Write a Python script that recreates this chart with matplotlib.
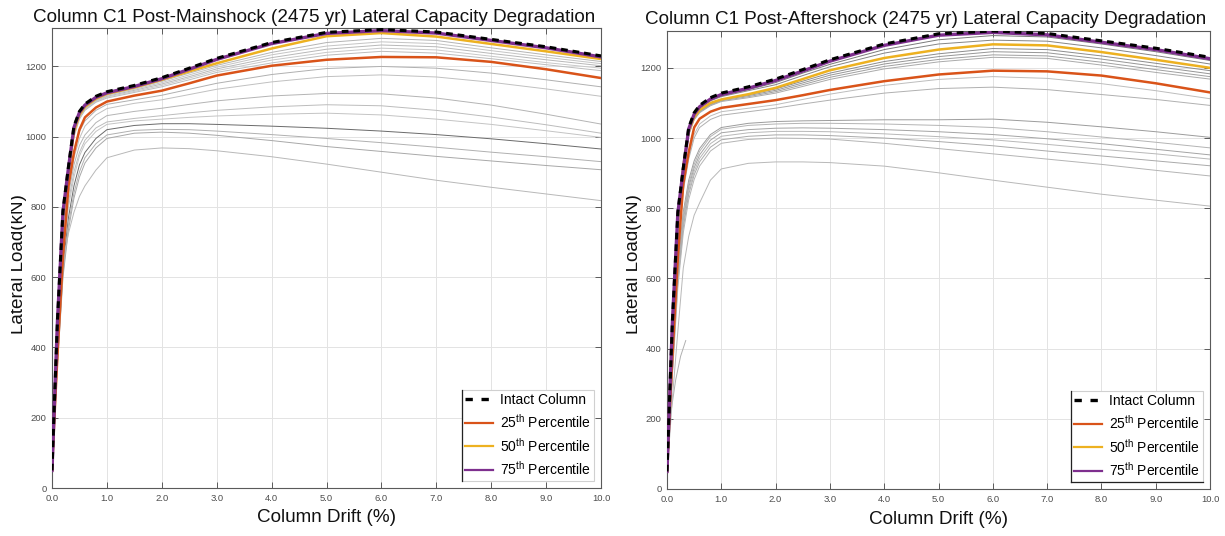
import matplotlib
matplotlib.use("Agg")
import matplotlib.pyplot as plt
from matplotlib.lines import Line2D
from matplotlib.transforms import Bbox, TransformedBbox

plt.rcParams["font.family"] = ["Liberation Sans", "DejaVu Sans"]
plt.rcParams["mathtext.default"] = "regular"

# ---------------------------------------------------------------- data
drift = [0, 0.05, 0.1, 0.2, 0.3, 0.4, 0.5, 0.6, 0.8, 1.0, 1.5, 2.0, 2.5,
         3.0, 4.0, 5.0, 6.0, 7.0, 8.0, 9.0, 10.0]

intact = [50, 270, 480, 790, 915, 1030, 1072, 1093, 1115, 1128, 1146, 1168,
          1195, 1223, 1268, 1297, 1305, 1298, 1277, 1256, 1230]

# post-mainshock percentiles (kN)
ms_p25 = [50, 220, 380, 660, 860, 955, 1020, 1055, 1083, 1100, 1117, 1131,
          1152, 1174, 1202, 1219, 1227, 1226, 1213, 1192, 1167]
ms_p50 = [50, 262, 468, 775, 900, 1015, 1062, 1085, 1108, 1122, 1140, 1162,
          1186, 1209, 1251, 1286, 1295, 1285, 1264, 1243, 1221]
ms_p75 = [50, 268, 476, 786, 911, 1026, 1069, 1090, 1112, 1125, 1143, 1165,
          1192, 1220, 1265, 1294, 1302, 1295, 1274, 1253, 1227]

# individual post-mainshock pushover curves (kN)
ms_records = [
    [50, 262, 464, 770, 898, 1012, 1060, 1083, 1106, 1120, 1138, 1158, 1181, 1203, 1240, 1268, 1280, 1274, 1253, 1233, 1214],
    [50, 260, 460, 765, 895, 1010, 1058, 1081, 1104, 1118, 1135, 1154, 1176, 1198, 1233, 1258, 1270, 1265, 1245, 1226, 1208],
    [50, 258, 456, 760, 892, 1007, 1056, 1079, 1102, 1115, 1132, 1150, 1171, 1193, 1225, 1249, 1261, 1256, 1237, 1219, 1202],
    [50, 255, 452, 755, 888, 1004, 1053, 1077, 1100, 1113, 1129, 1146, 1167, 1188, 1218, 1240, 1252, 1247, 1229, 1211, 1195],
    [50, 252, 448, 750, 885, 1000, 1050, 1075, 1098, 1110, 1126, 1142, 1162, 1183, 1210, 1232, 1243, 1238, 1222, 1205, 1188],
    [50, 245, 430, 720, 870, 960, 1015, 1045, 1075, 1092, 1105, 1118, 1135, 1152, 1177, 1194, 1200, 1195, 1181, 1162, 1142],
    [50, 240, 420, 700, 850, 940, 995, 1030, 1062, 1080, 1095, 1105, 1120, 1135, 1156, 1171, 1176, 1170, 1155, 1136, 1115],
    [50, 235, 410, 690, 835, 920, 975, 1005, 1040, 1060, 1072, 1081, 1092, 1102, 1116, 1123, 1122, 1110, 1090, 1064, 1036],
    [50, 230, 400, 675, 815, 900, 955, 990, 1025, 1042, 1052, 1060, 1068, 1075, 1085, 1091, 1088, 1075, 1056, 1034, 1010],
    [50, 225, 390, 660, 800, 885, 945, 980, 1015, 1035, 1045, 1050, 1055, 1059, 1064, 1067, 1062, 1050, 1035, 1017, 998],
    [50, 215, 370, 630, 770, 860, 920, 955, 995, 1020, 1032, 1037, 1037, 1035, 1030, 1024, 1016, 1006, 994, 980, 965],
    [50, 210, 360, 610, 750, 840, 900, 940, 980, 1005, 1018, 1021, 1020, 1016, 1006, 995, 983, 970, 956, 943, 929],
    [50, 205, 350, 600, 735, 825, 885, 925, 968, 995, 1010, 1013, 1010, 1004, 989, 972, 958, 944, 931, 918, 906],
    [50, 200, 360, 640, 725, 785, 830, 860, 905, 940, 962, 968, 966, 960, 943, 922, 899, 876, 856, 837, 818],
]
ms_shades = ["#b4b4b4", "#c4c4c4", "#b8b8b8", "#c8c8c8", "#bcbcbc",
             "#b0b0b0", "#c0c0c0", "#b4b4b4", "#bcbcbc", "#c4c4c4",
             "#6a6a6a", "#b0b0b0", "#a8a8a8", "#b8b8b8"]

# post-aftershock percentiles (kN)
as_p25 = [50, 220, 380, 660, 870, 960, 1030, 1055, 1075, 1086, 1097, 1108,
          1122, 1137, 1162, 1181, 1192, 1190, 1178, 1156, 1130]
as_p50 = [50, 262, 465, 770, 920, 1020, 1060, 1080, 1100, 1110, 1125, 1143,
          1168, 1193, 1228, 1252, 1267, 1264, 1245, 1223, 1200]
as_p75 = [50, 266, 476, 786, 911, 1026, 1068, 1089, 1111, 1124, 1142, 1164,
          1191, 1219, 1264, 1293, 1301, 1294, 1273, 1252, 1226]

# individual post-aftershock pushover curves (kN)
as_records = [
    [50, 266, 472, 780, 918, 1024, 1066, 1088, 1108, 1120, 1138, 1158, 1185, 1210, 1252, 1280, 1292, 1288, 1268, 1246, 1221],
    [50, 264, 470, 776, 916, 1022, 1064, 1086, 1106, 1118, 1135, 1152, 1178, 1203, 1242, 1268, 1279, 1276, 1257, 1235, 1211],
    [50, 262, 462, 765, 915, 1015, 1058, 1078, 1098, 1110, 1124, 1140, 1162, 1185, 1218, 1240, 1255, 1252, 1234, 1213, 1192],
    [50, 260, 458, 760, 912, 1012, 1056, 1076, 1096, 1108, 1121, 1136, 1157, 1179, 1211, 1232, 1246, 1243, 1225, 1204, 1183],
    [50, 258, 454, 755, 908, 1010, 1054, 1074, 1094, 1106, 1118, 1132, 1152, 1173, 1204, 1224, 1237, 1234, 1216, 1195, 1175],
    [50, 256, 450, 750, 905, 1008, 1052, 1072, 1092, 1104, 1115, 1128, 1147, 1167, 1197, 1217, 1230, 1227, 1208, 1187, 1168],
    [50, 235, 410, 700, 860, 950, 1010, 1040, 1063, 1075, 1085, 1095, 1110, 1125, 1150, 1167, 1175, 1170, 1155, 1135, 1112],
    [50, 230, 400, 690, 850, 940, 1000, 1030, 1053, 1065, 1075, 1085, 1097, 1108, 1128, 1141, 1145, 1138, 1124, 1110, 1093],
    [50, 215, 375, 640, 790, 880, 935, 970, 1010, 1030, 1042, 1047, 1049, 1050, 1052, 1052, 1054, 1045, 1032, 1018, 1002],
    [50, 210, 365, 625, 780, 870, 925, 962, 1004, 1025, 1036, 1040, 1042, 1042, 1040, 1036, 1030, 1018, 1003, 988, 972],
    [50, 205, 355, 610, 765, 860, 915, 952, 994, 1015, 1024, 1028, 1029, 1028, 1024, 1018, 1010, 998, 984, 968, 952],
    [50, 200, 345, 600, 755, 850, 905, 942, 984, 1005, 1015, 1019, 1019, 1018, 1012, 1004, 995, 982, 968, 955, 940],
    [50, 195, 335, 590, 745, 840, 895, 932, 974, 995, 1005, 1009, 1009, 1007, 1000, 990, 978, 963, 949, 935, 921],
    [50, 190, 325, 575, 730, 825, 882, 920, 963, 985, 996, 1000, 999, 997, 985, 970, 955, 940, 925, 908, 892],
    [50, 150, 260, 450, 630, 720, 780, 815, 880, 912, 928, 932, 932, 930, 920, 901, 880, 860, 840, 823, 806],
]
as_shades = ["#7a7a7a", "#858585", "#8c8c8c", "#969696", "#a0a0a0",
             "#aaaaaa", "#bdbdbd", "#b0b0b0", "#9c9c9c", "#b4b4b4",
             "#a4a4a4", "#b8b8b8", "#aaaaaa", "#b4b4b4", "#b8b8b8"]

# analysis that stopped early during the aftershock
as_short_drift = [0, 0.07, 0.16, 0.25, 0.345]
as_short_load = [50, 216, 311, 378, 423]

x_ticks = [0, 1, 2, 3, 4, 5, 6, 7, 8, 9, 10]
y_ticks = [0, 200, 400, 600, 800, 1000, 1200]

legend_labels = ["Intact Column", "25$^{th}$ Percentile",
                 "50$^{th}$ Percentile", "75$^{th}$ Percentile"]

C25, C50, C75 = "#D95319", "#EDB120", "#7E2F8E"

# ---------------------------------------------------------------- figure
W, H = 1225, 536
fig = plt.figure(figsize=(W / 100, H / 100), dpi=100)


def axes_px(x0, y0, x1, y1):
    return fig.add_axes([x0 / W, 1 - y1 / H, (x1 - x0) / W, (y1 - y0) / H])


def draw_panel(ax, title, records, shades, p25, p50, p75, ytop):
    for rec, sh in zip(records, shades):
        ax.plot(drift, rec, color=sh, lw=0.7, zorder=2)
    ax.plot(drift, p75, color=C75, lw=2.4, zorder=4)
    ax.plot(drift, p50, color=C50, lw=1.8, zorder=3)
    ax.plot(drift, p25, color=C25, lw=1.8, zorder=3)
    ax.plot(drift, intact, color="black", lw=2.2, dashes=(2.2, 1.6), zorder=5)

    ax.set_xlim(0, 10)
    ax.set_ylim(0, ytop)
    ax.set_xticks(x_ticks)
    ax.set_xticklabels([f"{v:.1f}" for v in x_ticks])
    ax.set_yticks(y_ticks)
    ax.tick_params(direction="in", length=4, width=0.6, color="#444444",
                   labelsize=6.8, labelcolor="#4d4d4d", top=True, right=True,
                   pad=4)
    ax.grid(True, color="#e3e3e3", lw=0.7)
    ax.set_axisbelow(True)
    for s in ax.spines.values():
        s.set_color("#5a5a5a")
        s.set_linewidth(0.8)
    ax.set_title(title, fontsize=13.6, x=0.477, pad=5, color="#111111")
    ax.set_xlabel("Column Drift (%)", fontsize=13.6, labelpad=5,
                  color="#111111")

    handles = [Line2D([], [], color="black", lw=2.4, dashes=(2.2, 2.6)),
               Line2D([], [], color=C25, lw=1.6),
               Line2D([], [], color=C50, lw=1.6),
               Line2D([], [], color=C75, lw=1.6)]
    leg = ax.legend(handles, legend_labels, loc="lower right", fontsize=10,
                    frameon=True, fancybox=False, framealpha=1,
                    edgecolor="#d0d0d0", handlelength=2.0, handletextpad=0.5,
                    labelspacing=0.42, borderpad=0.22, borderaxespad=0.5)
    leg.get_frame().set_linewidth(0.8)
    return leg


ax1 = axes_px(52, 28.5, 601, 488)
leg1 = draw_panel(ax1, "Column C1 Post-Mainshock (2475 yr) Lateral Capacity Degradation",
                  ms_records, ms_shades, ms_p25, ms_p50, ms_p75, 1308)

ax2 = axes_px(667, 31, 1210, 489)
for rec, sh in zip([as_short_load], ["#b0b0b0"]):
    ax2.plot(as_short_drift, rec, color=sh, lw=0.7, zorder=2)
leg2 = draw_panel(ax2, "Column C1 Post-Aftershock (2475 yr) Lateral Capacity Degradation",
                  as_records, as_shades, as_p25, as_p50, as_p75, 1305)


# y-axis titles, trimmed at the edge of each panel
def trimmed_ylabel(x_base, x_clip):
    t = fig.text(x_base / W, 1 - 264 / H, "Lateral Load(kN)", rotation=90,
                 rotation_mode="anchor", ha="center", va="baseline",
                 fontsize=13.6, color="#111111")
    t.set_clip_box(TransformedBbox(Bbox.from_extents(x_clip / W, 0, 1, 1),
                                   fig.transFigure))
    t.set_clip_on(True)
    return t


trimmed_ylabel(23, 11)
trimmed_ylabel(638, 626)

# darker legend edges
fig.canvas.draw()
inv = fig.transFigure.inverted()
for leg, edges in ((leg1, ("left",)), (leg2, ("left", "bottom"))):
    bb = leg.get_window_extent().transformed(inv)
    if "left" in edges:
        fig.add_artist(Line2D([bb.x0, bb.x0], [bb.y0, bb.y1], color="#222222",
                              lw=0.9, transform=fig.transFigure))
    if "bottom" in edges:
        fig.add_artist(Line2D([bb.x0, bb.x1], [bb.y0, bb.y0], color="#222222",
                              lw=0.9, transform=fig.transFigure))

fig.savefig("out.png", dpi=100)
